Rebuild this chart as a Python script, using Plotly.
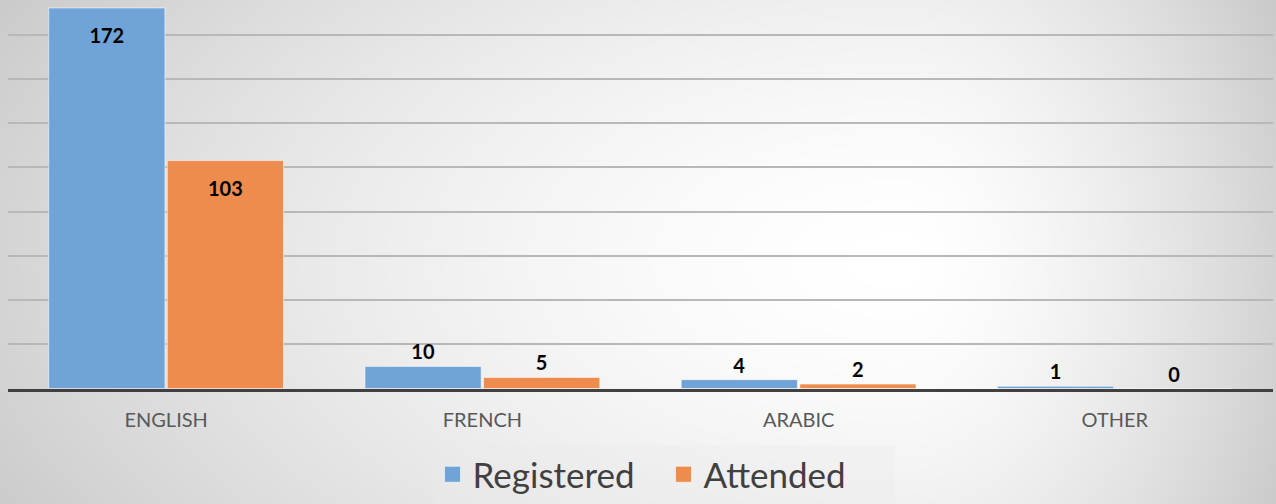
import numpy as np
import plotly.graph_objects as go

# ---- data ----
categories = ["ENGLISH", "FRENCH", "ARABIC", "OTHER"]
registered = [172, 10, 4, 1]
attended = [103, 5, 2, 0]
series_names = ["Registered", "Attended"]

# ---- style ----
W, H = 1276, 504
BLUE = "rgb(112,164,216)"
ORANGE = "rgb(238,140,77)"
FONT = "Lato"

fig = go.Figure()

# background radial gradient (decorative) drawn as a smooth heatmap on the first (bottom) axis pair
gx = np.linspace(0, W, 160)
gy = np.linspace(0, H, 64)
X, Y = np.meshgrid(gx, gy)
cx, cy = 900.0, 260.0
sx = np.where(X > cx, 430.0, 1050.0)
r = np.sqrt(((X - cx) / sx) ** 2 + ((Y - cy) / 560.0) ** 2)
shade = 255 - 55 * np.clip(r, 0, 1.1) ** 1.6
fig.add_trace(go.Heatmap(
    x=gx, y=gy, z=shade, xaxis="x", yaxis="y", zsmooth="best",
    colorscale=[[0, "rgb(190,190,190)"], [1, "rgb(255,255,255)"]],
    zmin=190, zmax=255, showscale=False, hoverinfo="skip",
))

BIG = 50  # bars at least this tall carry their label inside

def labels(vals):
    return [("<span style='font-size:6px'> </span><br>" + str(v)) if v >= BIG else str(v) for v in vals]

def positions(vals):
    return ["inside" if v >= BIG else "outside" for v in vals]

for name, vals, col in [(series_names[0], registered, BLUE), (series_names[1], attended, ORANGE)]:
    fig.add_trace(go.Bar(
        x=categories, y=vals, name=name, xaxis="x2", yaxis="y2",
        marker=dict(color=col, line=dict(color="rgba(255,255,255,0.55)", width=1)),
        text=labels(vals),
        textposition=positions(vals),
        insidetextanchor="end",
        textangle=0,
        textfont=dict(family=FONT, size=20, color="black", weight="bold"),
        cliponaxis=False,
        showlegend=False,
    ))
    # legend entries with larger square swatches
    fig.add_trace(go.Scatter(
        x=[None], y=[None], mode="markers", name=name, xaxis="x2", yaxis="y2",
        marker=dict(symbol="square", size=20, color=col, line=dict(color="rgba(255,255,255,0.6)", width=1)),
        showlegend=True,
    ))

fig.update_layout(
    width=W, height=H,
    margin=dict(l=0, r=0, t=0, b=0),
    paper_bgcolor="white",
    plot_bgcolor="rgba(0,0,0,0)",
    barmode="group",
    bargap=0.25,
    bargroupgap=0.02,
    xaxis=dict(domain=[0, 1], range=[0, W], visible=False, fixedrange=True),
    yaxis=dict(domain=[0, 1], range=[H, 0], visible=False, fixedrange=True),
    xaxis2=dict(
        domain=[8 / W, 1273 / W], anchor="y2",
        showgrid=False, showline=True, linecolor="#404040", linewidth=3,
        ticks="", ticklabelstandoff=11,
        tickfont=dict(family=FONT, size=20, color="#595959"),
    ),
    yaxis2=dict(
        domain=[115.5 / H, 1.0], anchor="x2",
        range=[0, 175.6], dtick=20,
        showgrid=True, gridcolor="#b8b8b8", gridwidth=1.8,
        zeroline=False, showticklabels=False, ticks="",
    ),
    legend=dict(
        orientation="h", x=0.52, xanchor="center", y=0, yanchor="bottom",
        font=dict(family=FONT, size=35, color="#404040"),
        bgcolor="rgba(235,235,235,0.35)",
        itemsizing="trace",
        entrywidth=186,
    ),
    showlegend=True,
)

fig.write_html("out.html")
